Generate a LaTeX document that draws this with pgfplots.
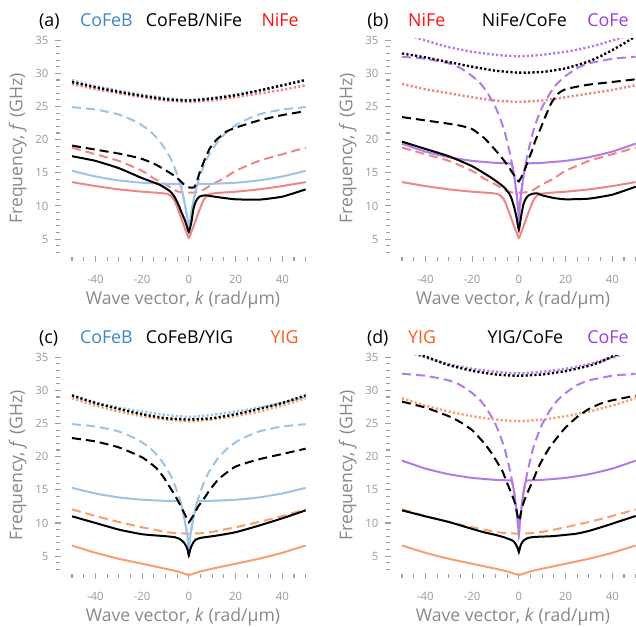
\documentclass[border=0pt]{standalone}
\usepackage{pgfplots}
\usepackage{pgfplotstable}
\pgfplotsset{compat=1.18}
\usepackage{fontspec}
\setmainfont{Open Sans}
\definecolor{cfbT}{HTML}{3D85C6}
\definecolor{cfbC}{HTML}{9DC3E6}
\definecolor{nfT}{HTML}{FF1010}
\definecolor{nfC}{HTML}{F08585}
\definecolor{cfT}{HTML}{9B3CE6}
\definecolor{cfC}{HTML}{B47AE6}
\definecolor{yiT}{HTML}{FF5A1E}
\definecolor{yiC}{HTML}{F5A06E}
\definecolor{tk}{HTML}{A0A0A0}
\definecolor{tl}{HTML}{999999}
\definecolor{lb}{HTML}{888888}

% ---------- single-layer curves ----------
\pgfplotstableread{
x y
-50 29.0
-40 28.1
-30 27.4
-20 26.8
-10 26.3
0 26.0
10 26.3
20 26.8
30 27.4
40 28.1
50 29.0
}\TcofebDot
\pgfplotstableread{
x y
-50 24.9
-40 24.55
-30 23.8
-22 22.6
-17 21.4
-13 20.0
-10 18.5
-8 17.3
-6 15.7
-4 13.7
-3 12.4
-2 10.8
-1 8.9
-0.5 7.7
0 6.2
0.5 7.7
1 8.9
2 10.8
3 12.4
4 13.7
6 15.7
8 17.3
10 18.5
13 20.0
17 21.4
22 22.6
30 23.8
40 24.55
50 24.9
}\TcofebDash
\pgfplotstableread{
x y
-50 15.3
-40 14.45
-30 13.85
-20 13.5
-10 13.34
-4 13.3
-3 12.4
-2 10.8
-1 8.9
-0.5 7.7
0 6.2
0.5 7.7
1 8.9
2 10.8
3 12.4
4 13.3
10 13.34
20 13.5
30 13.85
40 14.45
50 15.3
}\TcofebSol
\pgfplotstableread{
x y
-50 28.4
-40 27.6
-30 27.0
-20 26.4
-10 25.9
0 25.7
10 25.9
20 26.4
30 26.95
40 27.5
50 28.2
}\TnifeDot
\pgfplotstableread{
x y
-50 18.8
-40 17.8
-30 16.8
-20 15.3
-15 14.15
-10 13.25
-7 12.6
-5 12.2
-3 12.05
0 12.0
3 12.05
5 12.2
7 12.6
10 13.25
15 14.15
20 15.3
30 16.8
40 17.8
50 18.8
}\TnifeDash
\pgfplotstableread{
x y
-50 13.6
-40 13.0
-30 12.5
-20 12.15
-12 11.95
-9 11.8
-8 11.6
-7 11.25
-6 10.7
-5 9.8
-4 8.9
-3 7.9
-2 6.9
-1 6.0
-0.5 5.5
0 5.2
0.5 5.5
1 6.0
2 6.9
3 7.9
4 8.9
5 9.8
6 10.7
7 11.25
8 11.6
9 11.8
12 11.95
20 12.15
30 12.5
40 13.0
50 13.6
}\TnifeSol
\pgfplotstableread{
x y
-50 36.1
-40 34.95
-30 33.95
-20 33.25
-10 32.8
0 32.55
10 32.8
20 33.25
30 33.95
40 34.95
50 36.1
}\TcofeDot
\pgfplotstableread{
x y
-50 32.5
-40 32.2
-30 31.5
-25 30.8
-20 29.6
-16 28.3
-13 26.8
-10 24.9
-8 23.2
-6 21.1
-4 18.2
-3 16.5
-2 14.6
-1 11.9
-0.5 10.3
0 8.3
0.5 10.3
1 11.9
2 14.6
3 16.5
4 18.2
6 21.1
8 23.2
10 24.9
13 26.8
16 28.3
20 29.6
25 30.8
30 31.5
40 32.2
50 32.5
}\TcofeDash
\pgfplotstableread{
x y
-50 19.4
-40 18.2
-30 17.35
-20 16.8
-10 16.5
-3.5 16.4
-2.8 16.1
-2 14.6
-1 11.9
-0.5 10.3
0 8.3
0.5 10.3
1 11.9
2 14.6
2.8 16.1
3.5 16.4
10 16.5
20 16.8
30 17.35
40 18.2
50 19.4
}\TcofeSol
\pgfplotstableread{
x y
-50 28.8
-40 27.7
-30 26.8
-20 26.1
-10 25.6
0 25.35
10 25.6
20 26.1
30 26.8
40 27.7
50 28.8
}\TyigDot
\pgfplotstableread{
x y
-50 12.05
-40 11.05
-30 10.15
-20 9.35
-10 8.65
-5 8.45
0 8.4
5 8.45
10 8.65
20 9.35
30 10.15
40 11.05
50 12.05
}\TyigDash
\pgfplotstableread{
x y
-50 6.6
-40 5.5
-30 4.6
-20 3.85
-10 3.1
-5 2.7
-2 2.35
0 2.15
2 2.35
5 2.7
10 3.1
20 3.85
30 4.6
40 5.5
50 6.6
}\TyigSol

% ---------- bilayer curves ----------
\pgfplotstableread{
x y
-50 28.7
-40 27.9
-30 27.2
-20 26.6
-10 26.1
0 25.9
10 26.2
20 26.7
30 27.4
40 28.2
50 29.0
}\TaDot
\pgfplotstableread{
x y
-50 19.1
-40 18.5
-30 17.9
-21 17.2
-15 16.4
-10 15.4
-6 14.5
-4 13.9
-2 13.2
0 12.8
2.3 12.8
3.5 13.8
4.5 14.9
6 16.3
7.3 17.4
9 18.7
11.6 19.9
16 21.2
20 21.8
30 22.9
40 23.7
50 24.3
}\TaDash
\pgfplotstableread{
x y
-50 17.5
-40 16.8
-30 15.7
-20 14.2
-12.5 13.2
-8 12.2
-6 11.3
-5 10.6
-4 9.8
-3 8.9
-2 8.1
-1 7.1
0 6.1
1 7.4
2 9.6
3 10.7
4.5 11.4
7 11.6
10 11.45
15 11.2
20 11.0
30 10.95
40 11.4
50 12.5
}\TaSol
\pgfplotstableread{
x y
-50 33.0
-40 32.4
-30 31.7
-20 31.0
-10 30.4
0 30.1
10 30.2
20 30.75
30 31.8
35 32.6
40 33.5
45 34.5
50 35.6
}\TbDot
\pgfplotstableread{
x y
-50 23.4
-40 22.9
-30 22.4
-25 22.1
-20 21.6
-15 20.3
-12 19.2
-9 18.0
-6 16.7
-4 15.7
-2 14.6
-1 14.1
0 13.7
1 14.3
2 15.0
3 15.9
4 16.9
5.7 18.4
7 19.8
9.2 21.6
11 23.2
14 25.6
17 27.0
20 27.6
25 28.0
30 28.3
40 28.7
50 29.1
}\TbDash
\pgfplotstableread{
x y
-50 19.7
-40 18.6
-30 17.5
-20 16.0
-12 14.3
-8 13.3
-6 12.7
-4 11.8
-3 11.0
-2 9.8
-1 8.3
0 6.4
1 8.5
2 10.3
3 11.1
4.2 11.6
6 11.85
8 11.9
10 11.6
15 11.2
20 11.0
30 11.1
40 11.7
50 12.9
}\TbSol
\pgfplotstableread{
x y
-50 29.25
-40 28.1
-30 27.2
-20 26.4
-10 25.8
0 25.6
10 25.8
20 26.4
30 27.2
40 28.1
50 29.25
}\TcDot
\pgfplotstableread{
x y
-50 22.8
-40 22.3
-30 21.4
-20 19.9
-14 18.3
-11 17.0
-8.5 15.6
-6 14.2
-4 12.9
-2 11.5
-1 10.8
0 10.1
1 10.6
2.2 11.3
4 12.5
6 13.4
9 15.0
13 16.7
20 18.5
30 19.6
40 20.4
50 21.2
}\TcDash
\pgfplotstableread{
x y
-50 11.0
-40 10.0
-30 9.0
-20 8.3
-10 8.0
-6 7.85
-4 7.6
-3 7.35
-2 7.0
-1 6.4
-0.5 5.9
0 5.1
0.5 5.9
1 6.4
2 7.1
3 7.5
5 7.75
8 7.9
12 8.1
20 8.6
30 9.6
40 10.7
50 11.9
}\TcSol
\pgfplotstableread{
x y
-50 36.4
-40 35.1
-30 33.8
-20 32.95
-10 32.4
0 32.2
10 32.4
20 32.9
30 33.7
35 34.3
40 35.1
50 36.5
}\TdDot
\pgfplotstableread{
x y
-50 28.3
-40 27.4
-30 26.1
-25 25.2
-20 24.0
-15 22.1
-12 20.7
-9 19.0
-7 17.8
-5 16.0
-3 14.3
-1.5 12.8
0 10.3
1.5 12.5
3 14.0
5 15.6
6.5 16.8
8.5 18.5
10.8 20.0
13 21.3
16 22.7
20 24.4
25 26.0
30 27.2
35 28.0
40 28.5
50 29.2
}\TdDash
\pgfplotstableread{
x y
-50 11.9
-40 11.0
-30 10.15
-20 9.1
-15 8.6
-10 8.2
-6 7.8
-3 7.4
-2 7.15
-1 6.6
-0.5 6.2
0 5.6
0.5 6.3
1 6.8
2 7.35
4 7.75
7 7.9
14 8.0
20 8.2
25 8.4
30 8.8
37 9.55
40 9.9
50 11.05
}\TdSol

\newcommand{\tfont}{\fontsize{8.9}{10}\selectfont}
\pgfplotsset{
  panel/.style={
    scale only axis, width=125pt, height=110.4pt, anchor=south west,
    xmin=-56, xmax=51, ymin=2, ymax=35.3,
    axis line style={draw=none},
    xtick pos=bottom, ytick pos=left,
    xtick={-40,-20,0,20,40}, minor xtick={-50,-45,...,50},
    ytick={5,10,...,35}, minor ytick={3,4,...,35},
    tick align=center, major tick length=2.6pt, minor tick length=1.6pt,
    tick style={draw=tk, line width=0.55pt},
    /pgf/number format/assume math mode=true,
    tick label style={font=\fontsize{5.7}{6}\selectfont, text=tl},
    xticklabel style={yshift=-3.5pt},
    xlabel={Wave vector, \textit{k} (rad/µm)},
    ylabel={Frequency, \textit{f} (GHz)},
    label style={font=\fontsize{8.8}{10}\selectfont, text=lb},
    xlabel style={yshift=3.5pt},
    ylabel style={yshift=-2.5pt},
    clip mode=individual,
  },
  sol/.style={line width=1pt, no marks, smooth, tension=0.3},
  dsh/.style={sol, dash pattern=on 4.5pt off 2.5pt},
  dtt/.style={sol, line width=1.2pt, dash pattern=on 1.1pt off 1.1pt},
}

\begin{document}
\begin{tikzpicture}
\path[use as bounding box] (0,0) rectangle (318pt,313pt);

% (a)
\begin{axis}[panel, at={(29pt,183.5pt)}]
\addplot[dtt, cfbC] table {\TcofebDot};
\addplot[dtt, nfC] table {\TnifeDot};
\addplot[dsh, cfbC] table {\TcofebDash};
\addplot[dsh, nfC] table {\TnifeDash};
\addplot[sol, cfbC] table {\TcofebSol};
\addplot[sol, nfC] table {\TnifeSol};
\addplot[dtt, black] table {\TaDot};
\addplot[dsh, black] table {\TaDash};
\addplot[sol, black] table {\TaSol};
\node[anchor=base west, font=\tfont] at (axis cs:-67.1,37.1) {(a)};
\node[anchor=base west, font=\tfont, text=cfbT] at (axis cs:-49.6,37.1) {CoFeB};
\node[anchor=base west, font=\tfont] at (axis cs:-21.4,37.1) {CoFeB/NiFe};
\node[anchor=base east, font=\tfont, text=nfT] at (axis cs:50,37.1) {NiFe};
\end{axis}

% (b)
\begin{axis}[panel, at={(194pt,183.5pt)}]
\addplot[dtt, nfC] table {\TnifeDot};
\addplot[dtt, cfC] table {\TcofeDot};
\addplot[dsh, nfC] table {\TnifeDash};
\addplot[dsh, cfC] table {\TcofeDash};
\addplot[sol, nfC] table {\TnifeSol};
\addplot[sol, cfC] table {\TcofeSol};
\addplot[dtt, black] table {\TbDot};
\addplot[dsh, black] table {\TbDash};
\addplot[sol, black] table {\TbSol};
\node[anchor=base west, font=\tfont] at (axis cs:-67.9,37.1) {(b)};
\node[anchor=base west, font=\tfont, text=nfT] at (axis cs:-50.4,37.1) {NiFe};
\node[anchor=base west, font=\tfont] at (axis cs:-18.8,37.1) {NiFe/CoFe};
\node[anchor=base east, font=\tfont, text=cfT] at (axis cs:50,37.1) {CoFe};
\end{axis}

% (c)
\begin{axis}[panel, at={(29pt,25pt)}]
\addplot[dtt, cfbC] table {\TcofebDot};
\addplot[dtt, yiC] table {\TyigDot};
\addplot[dsh, cfbC] table {\TcofebDash};
\addplot[dsh, yiC] table {\TyigDash};
\addplot[sol, cfbC] table {\TcofebSol};
\addplot[sol, yiC] table {\TyigSol};
\addplot[dtt, black] table {\TcDot};
\addplot[dsh, black] table {\TcDash};
\addplot[sol, black] table {\TcSol};
\node[anchor=base west, font=\tfont] at (axis cs:-67.1,37.1) {(c)};
\node[anchor=base west, font=\tfont, text=cfbT] at (axis cs:-49.6,37.1) {CoFeB};
\node[anchor=base west, font=\tfont] at (axis cs:-21.4,37.1) {CoFeB/YIG};
\node[anchor=base east, font=\tfont, text=yiT] at (axis cs:50,37.1) {YIG};
\end{axis}

% (d)
\begin{axis}[panel, at={(194pt,25pt)}]
\addplot[dtt, yiC] table {\TyigDot};
\addplot[dtt, cfC] table {\TcofeDot};
\addplot[dsh, yiC] table {\TyigDash};
\addplot[dsh, cfC] table {\TcofeDash};
\addplot[sol, yiC] table {\TyigSol};
\addplot[sol, cfC] table {\TcofeSol};
\addplot[dtt, black] table {\TdDot};
\addplot[dsh, black] table {\TdDash};
\addplot[sol, black] table {\TdSol};
\node[anchor=base west, font=\tfont] at (axis cs:-68,37.1) {(d)};
\node[anchor=base west, font=\tfont, text=yiT] at (axis cs:-50.4,37.1) {YIG};
\node[anchor=base west, font=\tfont] at (axis cs:-16.4,37.1) {YIG/CoFe};
\node[anchor=base east, font=\tfont, text=cfT] at (axis cs:50,37.1) {CoFe};
\end{axis}
\end{tikzpicture}
\end{document}
